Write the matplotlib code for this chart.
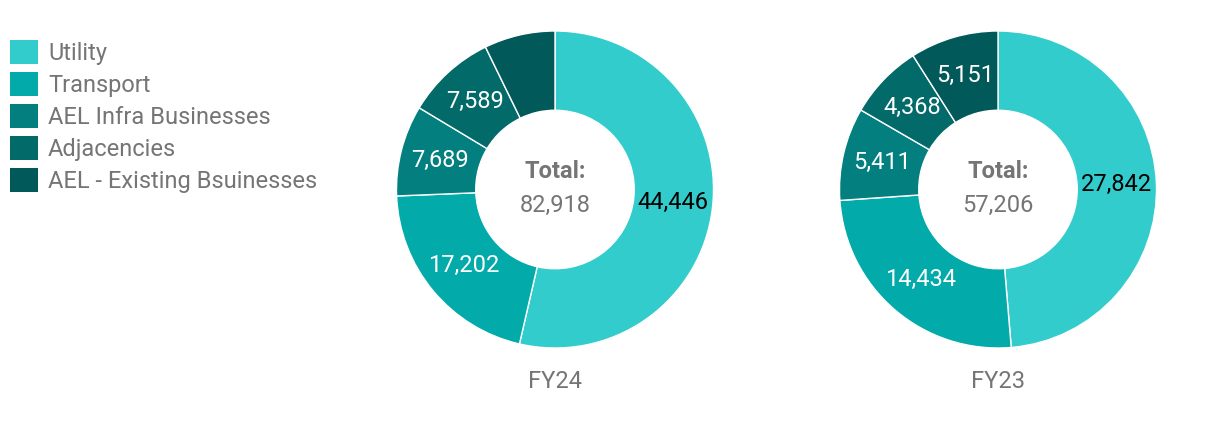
import matplotlib
matplotlib.use("Agg")
import matplotlib.pyplot as plt
from matplotlib.patches import Patch

plt.rcParams['font.family'] = ['Roboto', 'DejaVu Sans']

categories = ["Utility", "Transport", "AEL Infra Businesses", "Adjacencies", "AEL - Existing Bsuinesses"]
colors = ["#33cccc", "#03aaaa", "#037f7f", "#036a6a", "#025959"]
fy24 = [44446, 17202, 7689, 7589, 5992]
fy23 = [27842, 14434, 5411, 4368, 5151]
fy24_labels = ["44,446", "17,202", "7,689", "7,589", ""]
fy23_labels = ["27,842", "14,434", "5,411", "4,368", "5,151"]
titles = ["FY24", "FY23"]
totals = ["82,918", "57,206"]

W, H = 1220, 426
fig = plt.figure(figsize=(W / 100, H / 100), dpi=100)
gray = "#757575"

def add_donut(cx, cy, r, vals, labels, title, total):
    ax = fig.add_axes([(cx - r) / W, (H - cy - r) / H, 2 * r / W, 2 * r / H])
    wedges, texts = ax.pie(vals, colors=colors, startangle=90, counterclock=False,
                           radius=1, labels=labels, labeldistance=0.75,
                           wedgeprops=dict(width=0.5, edgecolor="white", linewidth=1),
                           textprops=dict(fontsize=17))
    for i, t in enumerate(texts):
        t.set_color("black" if i == 0 else "white")
        t.set_ha("center")
        t.set_va("center")
    ax.set_xlim(-1, 1)
    ax.set_ylim(-1, 1)
    ax.set_aspect("equal")
    ax.axis("off")
    ax.text(0, 0.115, "Total:", ha="center", va="center", fontsize=17, fontweight="bold", color=gray)
    ax.text(0, -0.10, total, ha="center", va="center", fontsize=17, color=gray)
    fig.text(cx / W, 1 - 382 / H, title, ha="center", va="center", fontsize=17, color=gray)

add_donut(555, 189.5, 158.5, fy24, fy24_labels, titles[0], totals[0])
add_donut(998, 189.5, 158.5, fy23, fy23_labels, titles[1], totals[1])

handles = [Patch(facecolor=c, edgecolor="none") for c in colors]
leg = fig.legend(handles, categories, loc="upper left", bbox_to_anchor=(10 / W, 1 - 40 / H),
                 frameon=False, fontsize=17, handlelength=1.19, handleheight=1.19,
                 labelspacing=0.3, handletextpad=0.42, borderpad=0, borderaxespad=0)
for t in leg.get_texts():
    t.set_color(gray)

fig.savefig("out.png", dpi=100, facecolor="white")
